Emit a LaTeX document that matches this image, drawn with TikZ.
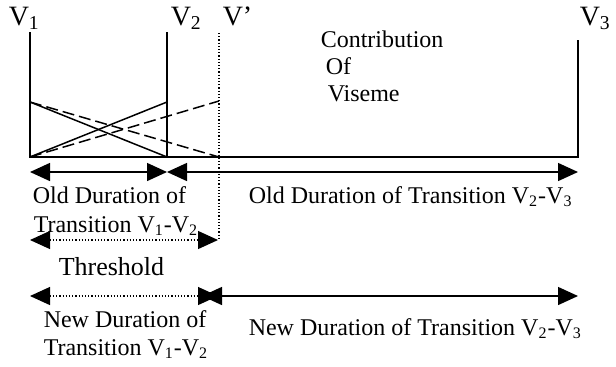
\documentclass[tikz,border=0pt]{standalone}
\usepackage{fontspec}
\setmainfont{Liberation Serif}
\usetikzlibrary{arrows.meta}
\tikzset{
    txt/.style={anchor=base west,inner sep=0pt,font=\fontsize{12}{14.5}\selectfont},
    vlab/.style={anchor=base west,inner sep=0pt,font=\fontsize{14}{16}\selectfont},
    dur/.style={line width=.7pt,{Triangle[length=10pt,width=9pt]}-{Triangle[length=10pt,width=9pt]}},
    fine/.style={line width=.6pt,dash pattern=on .6pt off 1pt},
}
\begin{document}
\begin{tikzpicture}[x=.5pt,y=-.5pt,line width=.75pt]
    \useasboundingbox (0,0) rectangle (616,366);
    % time points
    \coordinate (t1) at (30,32);   \coordinate (b1) at (30,157);
    \coordinate (t2) at (167,32);  \coordinate (b2) at (167,157);
    \coordinate (tp) at (219,33);  \coordinate (bp) at (219,240);
    \coordinate (t3) at (578,40);  \coordinate (b3) at (578,157);
    \coordinate (h1) at (30,102);  \coordinate (h2) at (167,102);
    \coordinate (hp) at (219,101); \coordinate (ep) at (219,157);
    % labels
    \node[vlab] (v1) at (8,25)   {V\textsubscript{1}};
    \node[vlab] (v2) at (170,25) {V\textsubscript{2}};
    \node[vlab] (vp) at (222,25) {V’};
    \node[vlab] (v3) at (579,25) {V\textsubscript{3}};
    \node[txt] (cv1) at (320,47)  {Contribution};
    \node[txt] (cv2) at (325,74)  {Of};
    \node[txt] (cv3) at (327,101) {Viseme};
    % viseme frame
    \draw (t1) -- (b1) -- (b3) -- (t3);
    \draw (t2) -- (b2);
    \draw[fine] (tp) -- (bp);
    \draw (h1) -- (b2);
    \draw (b1) -- (h2);
    \draw[dash pattern=on 6pt off 2.5pt] (h1) -- (ep);
    \draw[dash pattern=on 6pt off 2.5pt] (b1) -- (hp);
    % old durations
    \coordinate (o1) at (30,172); \coordinate (o2) at (167,172); \coordinate (o3) at (578,172);
    \draw[dur] (o1) -- (o2);
    \draw[dur] (o2) -- (o3);
    \node[txt] (od1) at (32,203) {Old Duration of};
    \node[txt] (od2) at (33,232) {Transition V\textsubscript{1}-V\textsubscript{2}};
    \node[txt] (od3) at (248,203) {Old Duration of Transition V\textsubscript{2}-V\textsubscript{3}};
    % threshold
    \coordinate (s1) at (30,240); \coordinate (s2) at (218,240);
    \draw[dur,fine] (s1) -- (s2);
    \node[txt,font=\fontsize{13}{15}\selectfont] (thr) at (58,275) {Threshold};
    % new durations
    \coordinate (n1) at (30,296); \coordinate (n2) at (218,296);
    \coordinate (n3) at (202,296); \coordinate (n4) at (578,296);
    \draw[dur,fine] (n1) -- (n2);
    \draw[dur] (n3) -- (n4);
    \node[txt] (nd1) at (43,327) {New Duration of};
    \node[txt] (nd2) at (43,355) {Transition V\textsubscript{1}-V\textsubscript{2}};
    \node[txt] (nd3) at (248,335) {New Duration of Transition V\textsubscript{2}-V\textsubscript{3}};
\end{tikzpicture}
\end{document}
